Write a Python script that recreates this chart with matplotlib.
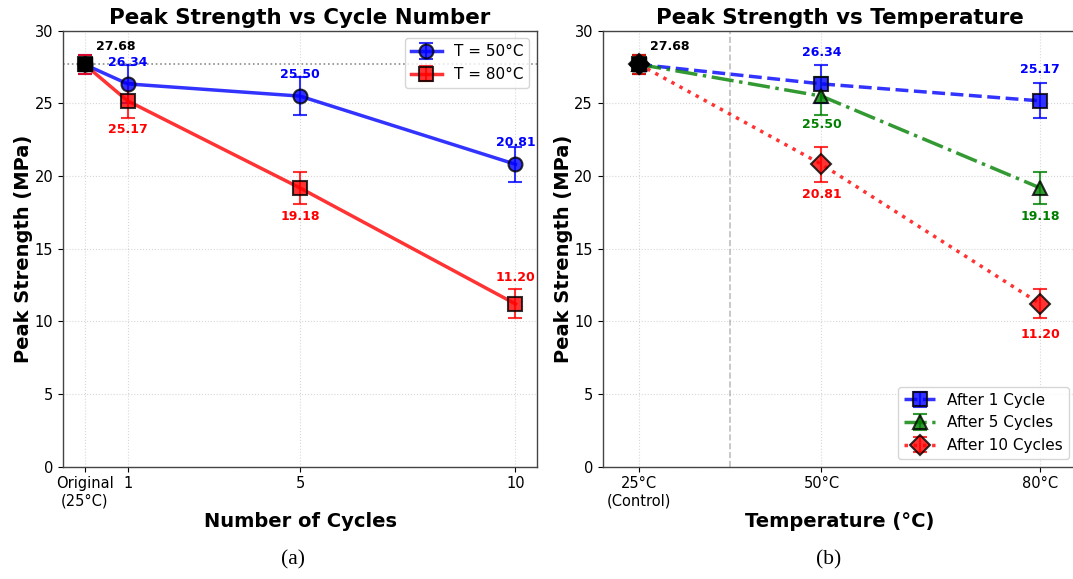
import matplotlib
matplotlib.use("Agg")
import matplotlib.pyplot as plt

# (a) peak strength vs number of cycles
cycle_ticks = [0, 1, 5, 10]
cycle_labels = ["Original\n(25°C)", "1", "5", "10"]
original_strength = 27.68
strength_50 = [27.68, 26.34, 25.50, 20.81]
err_50 = [0.65, 1.3, 1.3, 1.2]
strength_80 = [27.68, 25.17, 19.18, 11.20]
err_80 = [0.65, 1.2, 1.1, 1.0]

# (b) peak strength vs temperature
temps = [25, 50, 80]
temp_labels = ["25°C\n(Control)", "50°C", "80°C"]
after_1 = [27.68, 26.34, 25.17]
err_1 = [0.65, 1.3, 1.2]
after_5 = [27.68, 25.50, 19.18]
err_5 = [0.65, 1.3, 1.1]
after_10 = [27.68, 20.81, 11.20]
err_10 = [0.65, 1.2, 1.0]

W, H = 1073, 579
fig = plt.figure(figsize=(W / 100, H / 100), dpi=100)
ax1 = fig.add_axes([63 / W, 112.3 / H, 474 / W, 436 / H])
ax2 = fig.add_axes([602.7 / W, 112.3 / H, 474 / W, 436 / H])

style = dict(lw=2.5, ms=10, mec="black", mew=1.5, capsize=5, capthick=1.5,
             elinewidth=1.5, alpha=0.8)


def label_points(ax, xs, ys, color, dy):
    for x, y in zip(xs[1:], ys[1:]):
        ax.annotate("{:.2f}".format(y), (x, y), xytext=(0, dy),
                    textcoords="offset points", ha="center",
                    va="bottom" if dy > 0 else "top",
                    fontsize=9, fontweight="bold", color=color)


def label_origin(ax, x, y):
    ax.annotate("{:.2f}".format(y), (x, y), xytext=(8, 8),
                textcoords="offset points", ha="left", va="bottom",
                fontsize=9, fontweight="bold", color="black")


# ---- panel (a)
ax1.errorbar(cycle_ticks, strength_50, yerr=err_50, fmt="o-", color="blue",
             label="T = 50°C", **style)
ax1.errorbar(cycle_ticks, strength_80, yerr=err_80, fmt="s-", color="red",
             label="T = 80°C", **style)
ax1.plot(0, original_strength, "o", color="black", ms=10, mec="black", zorder=3)
ax1.plot(0, original_strength, "s", color="black", ms=10, mec="black", zorder=3)
ax1.axhline(original_strength, color="gray", ls=":", lw=1.2, alpha=0.9)
label_points(ax1, cycle_ticks, strength_50, "blue", 11)
label_points(ax1, cycle_ticks[:3], strength_80[:3], "red", -16)
ax1.annotate("{:.2f}".format(strength_80[3]), (cycle_ticks[3], strength_80[3]),
             xytext=(0, 14), textcoords="offset points", ha="center",
             va="bottom", fontsize=9, fontweight="bold", color="red")
label_origin(ax1, 0, original_strength)

ax1.set_xlim(-0.5, 10.5)
ax1.set_xticks(cycle_ticks)
ax1.set_xticklabels(cycle_labels)
ax1.set_xlabel("Number of Cycles", fontsize=14, fontweight="bold", labelpad=2)
ax1.set_title("Peak Strength vs Cycle Number", fontsize=15.4, fontweight="bold",
              pad=5)
ax1.legend(loc="upper right", fontsize=11)

# ---- panel (b)
ax2.errorbar(temps, after_1, yerr=err_1, fmt="s--", color="blue",
             label="After 1 Cycle", **style)
ax2.errorbar(temps, after_5, yerr=err_5, fmt="^-.", color="green",
             label="After 5 Cycles", **style)
ax2.errorbar(temps, after_10, yerr=err_10, fmt="D:", color="red",
             label="After 10 Cycles", **style)
for m in ["s", "^", "D"]:
    ax2.plot(temps[0], original_strength, m, color="black", ms=10, mec="black",
             zorder=3)
ax2.axvline((temps[0] + temps[1]) / 2, color="gray", ls="--", lw=1.2, alpha=0.5)
label_points(ax2, temps, after_1, "blue", 18)
label_points(ax2, temps, after_5, "green", -16)
label_points(ax2, temps, after_10, "red", -17)
label_origin(ax2, temps[0], original_strength)

ax2.set_xlim(20, 85)
ax2.set_xticks(temps)
ax2.set_xticklabels(temp_labels)
ax2.set_xlabel("Temperature (°C)", fontsize=14, fontweight="bold", labelpad=2)
ax2.set_title("Peak Strength vs Temperature", fontsize=15.4, fontweight="bold",
              pad=5)
ax2.legend(loc="lower right", fontsize=11)

for ax in (ax1, ax2):
    ax.set_ylim(0, 30)
    ax.set_yticks(range(0, 31, 5))
    ax.set_ylabel("Peak Strength (MPa)", fontsize=14, fontweight="bold",
                  labelpad=1)
    ax.grid(True, ls=":", alpha=0.5)
    ax.tick_params(labelsize=10.5)
    for sp in ax.spines.values():
        sp.set_color("#444444")
        sp.set_linewidth(1.0)

fig.text(293 / W, 1 - 560 / H, "(a)", ha="center", va="center",
         fontsize=15.5, family="Liberation Serif")
fig.text(829 / W, 1 - 560 / H, "(b)", ha="center", va="center",
         fontsize=15.5, family="Liberation Serif")

fig.savefig("out.png", dpi=100)
